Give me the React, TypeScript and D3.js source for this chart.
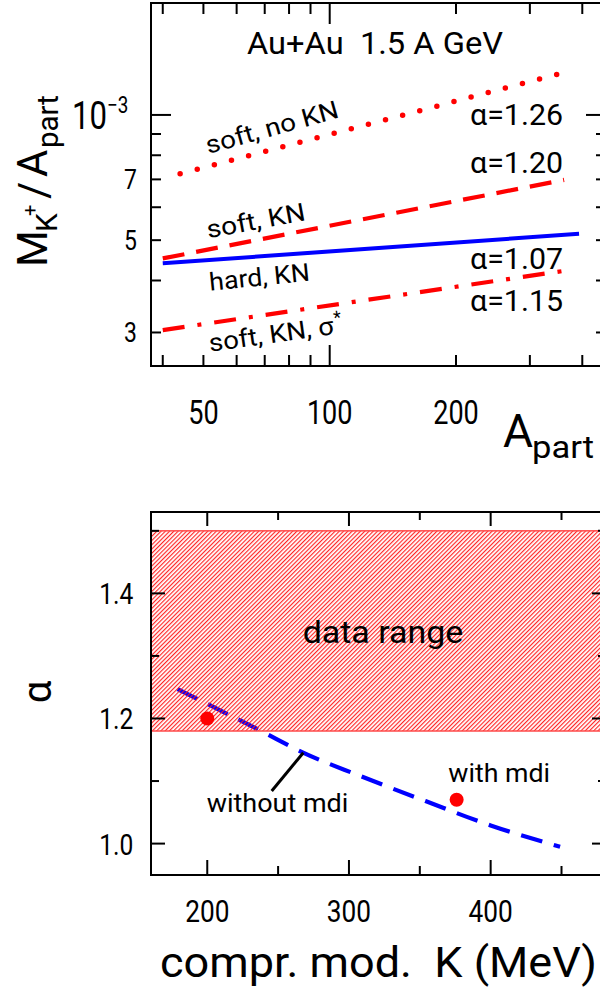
import React from 'react';
import * as d3 from 'd3';

// ---------- Top panel data (M_K+/A_part vs A_part) ----------
const softNoKN_A = [44, 362];
const softNoKN_M = [7.22e-4, 1.264e-3];
const softKN_A = [40, 362];
const softKN_M = [4.52e-4, 6.98e-4];
const hardKN_A = [40, 393];
const hardKN_M = [4.4e-4, 5.18e-4];
const softKNsig_A = [40, 362];
const softKNsig_M = [3.04e-4, 4.22e-4];

const topXTicks = [40, 50, 60, 70, 80, 90, 100, 200, 300, 400];
const topXMajor = [100];
const topXLabels = [50, 100, 200];
const topYTicks = [3e-4, 4e-4, 5e-4, 6e-4, 7e-4, 8e-4, 9e-4, 1e-3];
const topYMajor = [1e-3];
const topYLabelValues = [7e-4, 5e-4, 3e-4];
const topYLabelTexts = ['7', '5', '3'];

const alphaLabels = ['α=1.26', 'α=1.20', 'α=1.07', 'α=1.15'];

// ---------- Bottom panel data (alpha vs K) ----------
const kWithout = [179, 238, 268, 307, 354, 400, 449];
const alphaWithout = [1.247, 1.18, 1.145, 1.109, 1.068, 1.029, 0.995];
const kWith = [200, 376];
const alphaWith = [1.2, 1.07];
const dataRange = [1.18, 1.5];

const botXTicks = [200, 250, 300, 350, 400, 450];
const botXMajor = [200, 300, 400];
const botXLabels = [200, 300, 400];
const botYTicks = [1.0, 1.1, 1.2, 1.3, 1.4, 1.5];
const botYMajor = [1.0, 1.2, 1.4];
const botYLabels = [1.0, 1.2, 1.4];

const FONT = "Roboto, 'DejaVu Sans', sans-serif";
const RED = '#ff0000';
const BLUE = '#0000ff';
const SX = 0.82; // horizontal squeeze for the narrow tick digits

export default function App() {
  const T = { l: 151, r: 606, t: 3, b: 366 };
  const B = { l: 151, r: 606, t: 512, b: 875 };

  const xTop = d3.scaleLog().domain([37.5, 455.6]).range([T.l, T.r]);
  const yTop = d3.scaleLog().domain([2.492e-4, 1.858e-3]).range([T.b, T.t]);
  const xBot = d3.scaleLinear().domain([160.3, 481.4]).range([B.l, B.r]);
  const yBot = d3.scaleLinear().domain([0.9498, 1.5301]).range([B.b, B.t]);

  const lineTop = d3
    .line<[number, number]>()
    .x((d) => xTop(d[0]))
    .y((d) => yTop(d[1]));
  const lineBot = d3
    .line<[number, number]>()
    .x((d) => xBot(d[0]))
    .y((d) => yBot(d[1]))
    .curve(d3.curveMonotoneX);

  const zip = (a: number[], b: number[]) => a.map((v, i) => [v, b[i]] as [number, number]);

  const alphaY = [125, 173.3, 269.3, 310.7];

  return (
    <svg
      width={600}
      height={992}
      style={{ position: 'absolute', left: 0, top: 0, background: '#fff' }}
      fontFamily={FONT}
      fontWeight={400}
    >
      <defs>
        <pattern id="hatch" patternUnits="userSpaceOnUse" width={3} height={3} patternTransform="rotate(45)">
          <line x1={0.6} y1={0} x2={0.6} y2={3} stroke="#ff1a1a" strokeWidth={1.1} />
        </pattern>
        <clipPath id="clipTop">
          <rect x={T.l} y={T.t} width={T.r - T.l} height={T.b - T.t} />
        </clipPath>
        <clipPath id="clipBot">
          <rect x={B.l} y={B.t} width={B.r - B.l} height={B.b - B.t} />
        </clipPath>
      </defs>
      <rect x={0} y={0} width={600} height={992} fill="#fff" />

      {/* ================= TOP PANEL ================= */}
      <g clipPath="url(#clipTop)">
        <path
          d={lineTop(zip(softNoKN_A, softNoKN_M)) || ''}
          fill="none"
          stroke={RED}
          strokeWidth={5.5}
          strokeLinecap="round"
          strokeDasharray="0 17.7"
        />
        <path
          d={lineTop(zip(softKN_A, softKN_M)) || ''}
          fill="none"
          stroke={RED}
          strokeWidth={4.2}
          strokeDasharray="22 12"
        />
        <path d={lineTop(zip(hardKN_A, hardKN_M)) || ''} fill="none" stroke={BLUE} strokeWidth={4} />
        <path
          d={lineTop(zip(softKNsig_A, softKNsig_M)) || ''}
          fill="none"
          stroke={RED}
          strokeWidth={4.2}
          strokeDasharray="22 13 4 13"
        />
      </g>
      <rect x={T.l} y={T.t} width={T.r - T.l} height={T.b - T.t} fill="none" stroke="#000" strokeWidth={2} />
      {topXTicks.map((v) => {
        const len = topXMajor.includes(v) ? 21 : 11;
        const x = xTop(v);
        return (
          <g key={'tx' + v} stroke="#000" strokeWidth={2}>
            <line x1={x} x2={x} y1={T.b} y2={T.b - len} />
            <line x1={x} x2={x} y1={T.t} y2={T.t + len} />
          </g>
        );
      })}
      {topYTicks.map((v) => {
        const len = topYMajor.includes(v) ? 20 : 10;
        const y = yTop(v);
        return (
          <g key={'ty' + v} stroke="#000" strokeWidth={2}>
            <line x1={T.l} x2={T.l + len} y1={y} y2={y} />
            <line x1={T.r} x2={T.r - len} y1={y} y2={y} />
          </g>
        );
      })}
      {topXLabels.map((v) => (
        <text
          key={'txl' + v}
          transform={`translate(${xTop(v)},424) scale(${SX},1)`}
          fontSize={33}
          textAnchor="middle"
        >
          {v}
        </text>
      ))}
      {topYLabelValues.map((v, i) => (
        <text
          key={'tyl' + v}
          transform={`translate(137,${yTop(v) + 10}) scale(${SX},1)`}
          fontSize={28}
          textAnchor="end"
        >
          {topYLabelTexts[i]}
        </text>
      ))}
      <text transform={`translate(107,${yTop(1e-3) + 14}) scale(${SX},1)`} fontSize={38} textAnchor="end">
        10
      </text>
      <text transform={`translate(107,${yTop(1e-3) - 2}) scale(${SX},1)`} fontSize={23} textAnchor="start">
        −3
      </text>

      {/* axis titles top */}
      <text x={503} y={447} fontSize={46}>
        A
      </text>
      <text x={532} y={458} fontSize={32} textLength={62} lengthAdjust="spacingAndGlyphs">
        part
      </text>
      <g transform="translate(46.7,267) rotate(-90)">
        <text x={0} y={0} fontSize={42}>
          M
        </text>
        <text x={35} y={10} fontSize={30}>
          K
        </text>
        <text x={51} y={-10} fontSize={20}>
          +
        </text>
        <text x={68} y={1} fontSize={42}>
          /
        </text>
        <text x={90} y={0} fontSize={42}>
          A
        </text>
        <text x={119} y={11} fontSize={30} textLength={53} lengthAdjust="spacingAndGlyphs">
          part
        </text>
      </g>

      {/* annotations top */}
      <text x={247} y={54} fontSize={31} textLength={256} lengthAdjust="spacingAndGlyphs" style={{ whiteSpace: 'pre' }}>
        {'Au+Au  1.5 A GeV'}
      </text>
      <g transform="translate(208.3,154) rotate(-15.6)">
        <text fontSize={25} textLength={137} lengthAdjust="spacingAndGlyphs">
          soft, no KN
        </text>
      </g>
      <g transform="translate(208.3,238.3) rotate(-10.5)">
        <text fontSize={25} textLength={100} lengthAdjust="spacingAndGlyphs">
          soft, KN
        </text>
      </g>
      <g transform="translate(210,290.7) rotate(-5.7)">
        <text fontSize={25} textLength={101} lengthAdjust="spacingAndGlyphs">
          hard, KN
        </text>
      </g>
      <g transform="translate(210,351.7) rotate(-8)">
        <text fontSize={25} textLength={126} lengthAdjust="spacingAndGlyphs">
          soft, KN, σ
        </text>
        <text x={127} y={-10} fontSize={18}>
          *
        </text>
      </g>
      {alphaLabels.map((s, i) => (
        <text key={s} x={470} y={alphaY[i]} fontSize={30} textLength={93} lengthAdjust="spacingAndGlyphs">
          {s}
        </text>
      ))}

      {/* ================= BOTTOM PANEL ================= */}
      <g clipPath="url(#clipBot)">
        <path
          d={lineBot(zip(kWithout, alphaWithout)) || ''}
          fill="none"
          stroke={BLUE}
          strokeWidth={4.2}
          strokeDasharray="22 12"
        />
        <rect
          x={B.l}
          y={yBot(dataRange[1])}
          width={B.r - B.l}
          height={yBot(dataRange[0]) - yBot(dataRange[1])}
          fill="url(#hatch)"
          stroke="#ff4a4a"
          strokeWidth={1.5}
        />
        {kWith.map((k, i) => (
          <circle key={'pt' + k} cx={xBot(k)} cy={yBot(alphaWith[i])} r={7} fill={RED} />
        ))}
      </g>
      <rect x={B.l} y={B.t} width={B.r - B.l} height={B.b - B.t} fill="none" stroke="#000" strokeWidth={2} />
      {botXTicks.map((v) => {
        const len = botXMajor.includes(v) ? 15 : 9;
        const x = xBot(v);
        return (
          <g key={'bx' + v} stroke="#000" strokeWidth={2}>
            <line x1={x} x2={x} y1={B.b} y2={B.b - len} />
            <line x1={x} x2={x} y1={B.t} y2={B.t + len - 1} />
          </g>
        );
      })}
      {botYTicks.map((v) => {
        const len = botYMajor.includes(v) ? 14 : 8;
        const y = yBot(v);
        return (
          <g key={'by' + v} stroke="#000" strokeWidth={2}>
            <line x1={B.l} x2={B.l + len} y1={y} y2={y} />
            <line x1={B.r} x2={B.r - len} y1={y} y2={y} />
          </g>
        );
      })}
      {botXLabels.map((v) => (
        <text
          key={'bxl' + v}
          transform={`translate(${xBot(v)},921.7) scale(${SX},1)`}
          fontSize={32}
          textAnchor="middle"
        >
          {v}
        </text>
      ))}
      {botYLabels.map((v) => (
        <text
          key={'byl' + v}
          transform={`translate(133.3,${yBot(v) + 11}) scale(${SX},1)`}
          fontSize={30}
          textAnchor="end"
        >
          {v.toFixed(1)}
        </text>
      ))}
      <g transform="translate(37.5,692) rotate(-90)">
        <text fontSize={40} textAnchor="middle" dominantBaseline="central">
          α
        </text>
      </g>

      {/* annotations bottom */}
      <text x={302.7} y={643.3} fontSize={31} textLength={160.6} lengthAdjust="spacingAndGlyphs">
        data range
      </text>
      <text x={448.3} y={781.7} fontSize={25} textLength={101.7} lengthAdjust="spacingAndGlyphs">
        with mdi
      </text>
      <text x={206.7} y={811.7} fontSize={25} textLength={141.7} lengthAdjust="spacingAndGlyphs">
        without mdi
      </text>
      <line x1={271.7} y1={791} x2={303.3} y2={752.7} stroke="#000" strokeWidth={3} />
      <text
        x={160}
        y={976.7}
        fontSize={42}
        textLength={437}
        lengthAdjust="spacingAndGlyphs"
        style={{ whiteSpace: 'pre' }}
      >
        {'compr. mod.  K (MeV)'}
      </text>
    </svg>
  );
}
